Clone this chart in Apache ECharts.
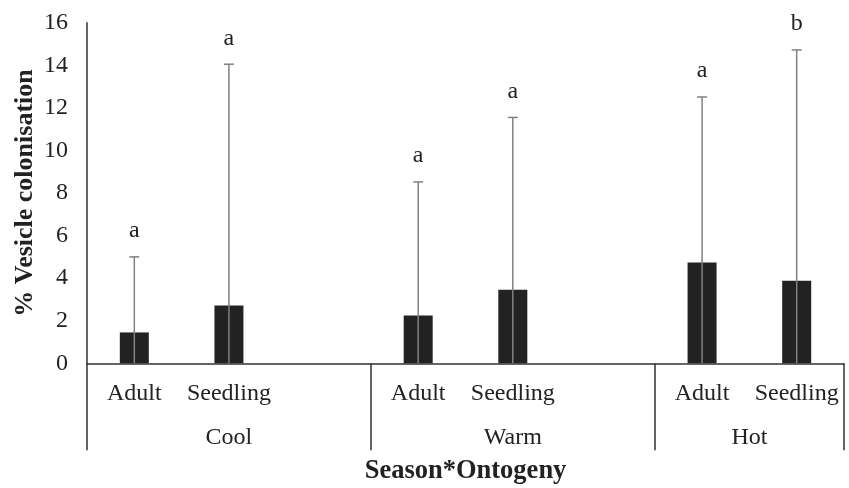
<!DOCTYPE html>
<html>
<head>
<meta charset="utf-8">
<script src="https://cdn.jsdelivr.net/npm/echarts@6/dist/echarts.min.js"></script>
<style>html,body{margin:0;padding:0;background:#fff}#c{width:849px;height:488px}</style>
</head>
<body>
<div id="c"></div>
<script>
var categories = ['Adult', 'Seedling', '', 'Adult', 'Seedling', '', 'Adult', 'Seedling'];
var means = [1.45, 2.72, null, 2.25, 3.46, null, 4.73, 3.88];
var upper = [5.0, 14.05, null, 8.52, 11.55, null, 12.51, 14.72];
var letters = ['a', 'a', '', 'a', 'a', '', 'a', 'b'];
var groups = ['Cool', 'Warm', 'Hot'];
var groupBounds = [0, 3, 6, 8];
var groupCenters = [1.5, 4.5, 7];
var yTicks = [0, 2, 4, 6, 8, 10, 12, 14, 16];

var FONT = '"Liberation Serif", "Times New Roman", serif';
var chart = echarts.init(document.getElementById('c'));

var errData = [];
for (var i = 0; i < categories.length; i++) {
  if (upper[i] != null) errData.push([i, means[i], upper[i], letters[i]]);
}

chart.setOption({
  animation: false,
  grid: { left: 87, right: 5, top: 22.7, bottom: 124.7, containLabel: false, outerBoundsMode: 'none' },
  xAxis: [{
    type: 'category',
    data: categories,
    position: 'bottom',
    axisLine: { show: true, lineStyle: { color: '#333', width: 1.5 } },
    axisTick: { show: false },
    axisLabel: { interval: 0, margin: 18, fontFamily: FONT, fontSize: 24, color: '#222' },
    name: 'Season*Ontogeny',
    nameLocation: 'middle',
    nameGap: 94,
    nameMoveOverlap: false,
    nameTextStyle: { fontFamily: FONT, fontSize: 26.5, fontWeight: 'bold', color: '#222' }
  }, {
    type: 'value',
    min: 0, max: 8,
    position: 'bottom',
    axisLine: { show: false },
    splitLine: { show: false },
    axisTick: { show: true, customValues: groupBounds, length: 87, lineStyle: { color: '#333', width: 1.5 } },
    axisLabel: {
      customValues: groupCenters,
      margin: 62,
      fontFamily: FONT, fontSize: 24, color: '#222',
      formatter: function (v) { return groups[groupCenters.indexOf(v)]; }
    }
  }],
  yAxis: {
    type: 'value',
    min: 0, max: 16, interval: 2,
    axisLine: { show: true, lineStyle: { color: '#333', width: 1.5 } },
    axisTick: { show: false },
    splitLine: { show: false },
    axisLabel: { margin: 19, fontFamily: FONT, fontSize: 24, color: '#222',
      formatter: function (v) { return yTicks.indexOf(v) >= 0 ? String(v) : ''; } },
    name: '% Vesicle colonisation',
    nameLocation: 'middle',
    nameGap: 49,
    nameMoveOverlap: false,
    nameTextStyle: { fontFamily: FONT, fontSize: 26, fontWeight: 'bold', color: '#222' }
  },
  series: [{
    type: 'bar',
    data: means,
    barWidth: 29,
    itemStyle: { color: '#222' },
    xAxisIndex: 0
  }, {
    type: 'custom',
    xAxisIndex: 0,
    data: errData,
    z: 5,
    renderItem: function (params, api) {
      var x = api.value(0);
      var base = api.coord([x, 0]);
      var top = api.coord([x, api.value(2)]);
      var cap = 5;
      var s = { stroke: '#808080', lineWidth: 1.5 };
      return {
        type: 'group',
        children: [
          { type: 'line', shape: { x1: base[0], y1: base[1], x2: top[0], y2: top[1] }, style: s },
          { type: 'line', shape: { x1: top[0] - cap, y1: top[1], x2: top[0] + cap, y2: top[1] }, style: s },
          { type: 'text', style: { text: api.value(3), x: top[0], y: top[1] - 14, align: 'center', verticalAlign: 'bottom',
            font: '24px ' + FONT, fill: '#222' } }
        ]
      };
    }
  }]
});
</script>
</body>
</html>
